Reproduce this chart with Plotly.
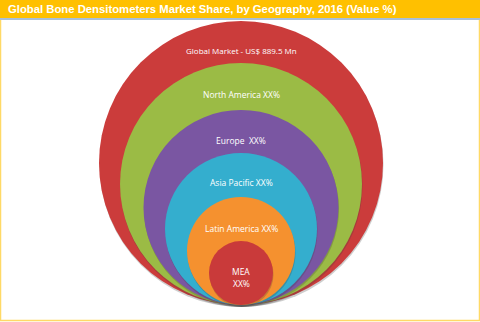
import plotly.graph_objects as go

# Data
segments = ["Global Market - US$ 889.5 Mn", "North America XX%", "Europe  XX%",
            "Asia Pacific XX%", "Latin America XX%", "MEA"]
radii = [142, 121, 97.5, 76, 54, 32]            # relative bubble sizes
label_offsets = [29, 31, 30, 29, 31, 30]         # label distance below circle top
colors = ["#CB3C3B", "#9BBB45", "#7A56A2", "#34AECE", "#F5912F", "#C93A3A"]
title = "Global Bone Densitometers Market Share, by Geography, 2016 (Value %)"

W, H = 480, 322
cx = 241
base = 305  # common tangent bottom

shapes = [dict(type="rect", xref="x", yref="y", layer="below",
               x0=0.5, x1=W - 0.5, y0=0, y1=H - 1.5,
               fillcolor="white", line=dict(color="#FFD966", width=1.5))]
for r, c in zip(radii, colors):
    shapes.append(dict(type="circle", xref="x", yref="y", layer="below",
                       x0=cx - r + 0.5, x1=cx + r + 0.5, y0=base - 2 * r + 1.5, y1=base + 2,
                       fillcolor="rgba(60,60,60,0.25)", line=dict(width=0)))
    shapes.append(dict(type="circle", xref="x", yref="y", layer="below",
                       x0=cx - r, x1=cx + r, y0=base - 2 * r, y1=base,
                       fillcolor=c, line=dict(width=0)))
shapes.append(dict(type="rect", xref="x", yref="y", x0=0, x1=W, y0=0, y1=18,
                   fillcolor="#FFC000", line=dict(width=0)))
shapes.append(dict(type="rect", xref="x", yref="y", x0=0, x1=W, y0=18, y1=20,
                   fillcolor="#A9BFD9", line=dict(width=0)))

fig = go.Figure()
fig.update_layout(shapes=shapes)

font_family = "Open Sans, Liberation Sans, sans-serif"
annotations = []
for i, (t, r, off) in enumerate(zip(segments, radii, label_offsets)):
    y = base - 2 * r + off
    annotations.append(dict(x=cx, y=y, xref="x", yref="y", text=t, showarrow=False,
                            font=dict(family=font_family, size=8 if i == 0 else 8.5, color="white"),
                            xanchor="center", yanchor="middle"))
annotations.append(dict(x=cx, y=base - 2 * radii[-1] + label_offsets[-1] + 12, xref="x", yref="y",
                        text="XX%", showarrow=False, xanchor="center", yanchor="middle",
                        font=dict(family=font_family, size=8.5, color="white")))
annotations.append(dict(x=6, y=9, xref="x", yref="y", text="<b>" + title + "</b>",
                        showarrow=False, xanchor="left", yanchor="middle",
                        font=dict(family="Liberation Sans, Arial, sans-serif", size=11.3, color="white")))
fig.update_layout(annotations=annotations)

fig.update_xaxes(range=[0, W], visible=False, fixedrange=True)
fig.update_yaxes(range=[H, 0], visible=False, fixedrange=True)
fig.update_layout(width=W, height=H, margin=dict(l=0, r=0, t=0, b=0),
                  paper_bgcolor="white", plot_bgcolor="white", showlegend=False)

fig.write_html("out.html")
